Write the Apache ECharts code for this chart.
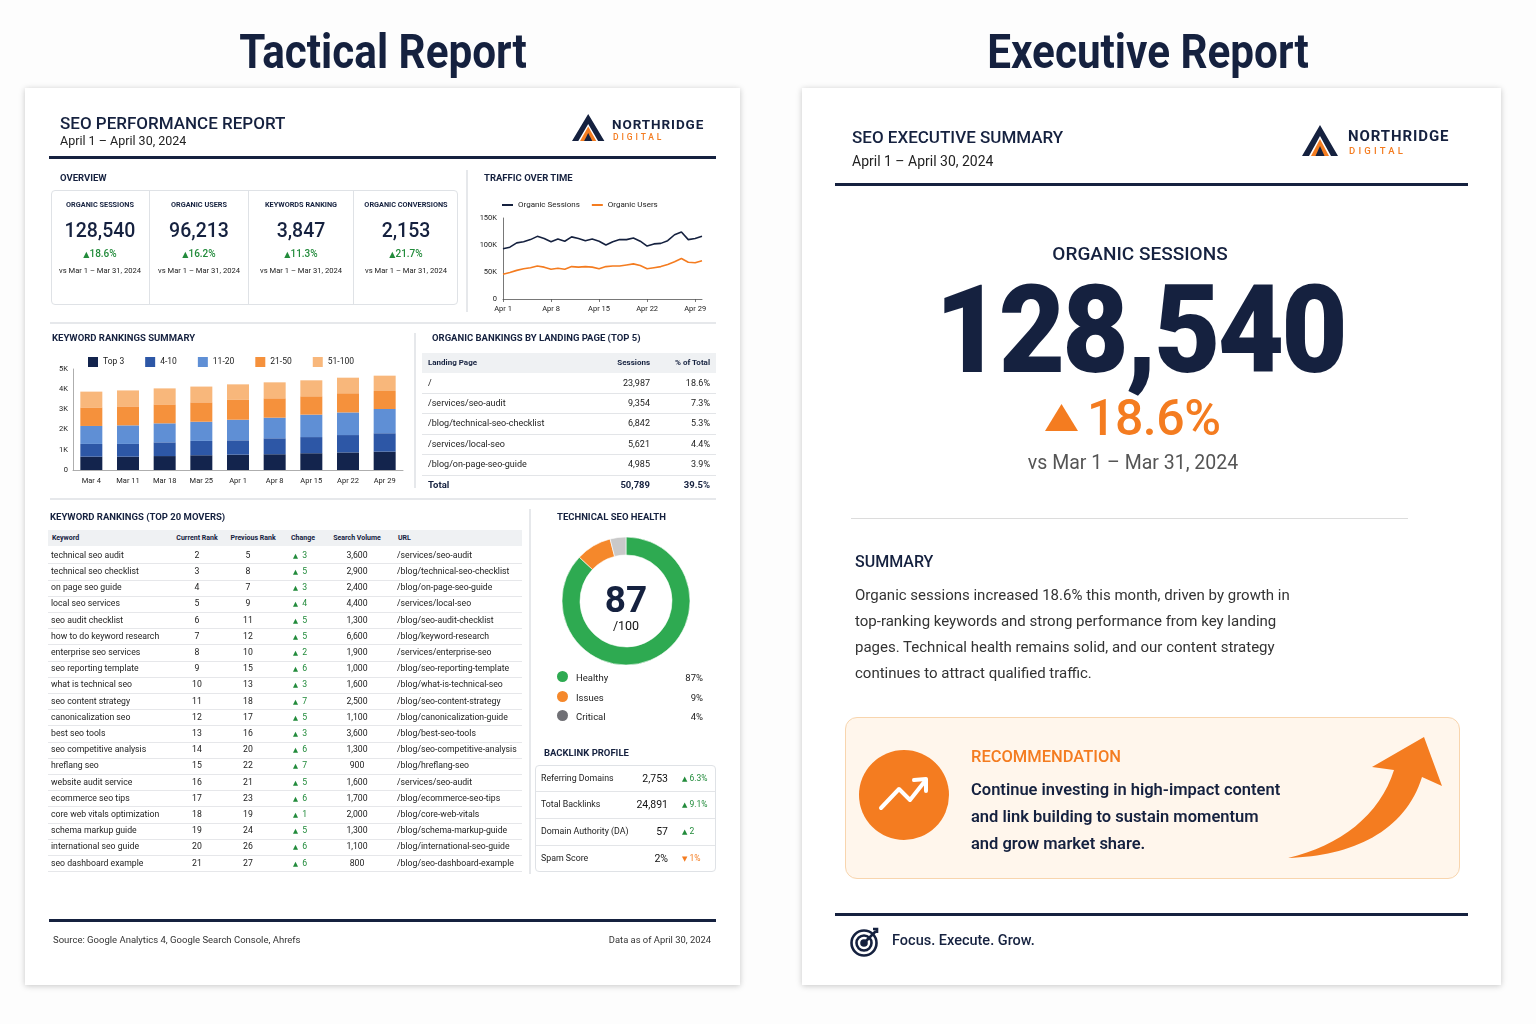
<!DOCTYPE html>
<html>
<head>
<meta charset="utf-8">
<title>SEO Reports</title>
<script src="https://cdn.jsdelivr.net/npm/echarts@6.0.0/dist/echarts.min.js"></script>
<style>
  body { margin:0; width:1536px; height:1024px; background:#fdfdfd; position:relative; overflow:hidden;
         font-family:Roboto, 'Noto Sans', sans-serif; color:#15213f; }
  .abs { position:absolute; white-space:nowrap; }
  .card { position:absolute; background:#fff; box-shadow:0 1px 6px rgba(0,0,0,0.22); }
  .box { position:absolute; border:1px solid #dfe2e6; border-radius:4px; background:#fff; box-sizing:border-box; }
  .chart { position:absolute; }
</style>
</head>
<body>
<div class="card" style="left:25px;top:88px;width:715px;height:897px"></div>
<div class="card" style="left:802px;top:88px;width:699px;height:897px"></div>
<div class="box" style="left:51px;top:190px;width:407px;height:115px"></div>
<div class="box" style="left:535px;top:765px;width:181px;height:107px"></div>
<div class="abs" style="left:845px;top:717px;width:615px;height:162px;background:#fff6ec;border:1px solid #f8d5ae;border-radius:12px;box-sizing:border-box"></div>
<div id="traffic" class="chart" style="left:470px;top:190px;width:250px;height:130px"></div>
<div id="rankings" class="chart" style="left:45px;top:345px;width:370px;height:150px"></div>
<div id="health" class="chart" style="left:561px;top:536px;width:130px;height:130px"></div>
<svg class="abs" style="left:0;top:0" width="1536" height="1024" id="art">
  <!-- logos -->
  <g transform="translate(572,114) scale(0.9)">
    <polygon points="18,0 36,30 29,30 18,11 7,30 0,30" fill="#15213f"/>
    <polygon points="18,14 27,30 9,30" fill="#f47c20"/>
    <polygon points="18,21 22.5,30 13.5,30" fill="#15213f"/>
  </g>
  <g transform="translate(1302,125)">
    <polygon points="18,0 36,31 29,31 18,11 7,31 0,31" fill="#15213f"/>
    <polygon points="18,14 27,31 9,31" fill="#f47c20"/>
    <polygon points="18,21 22.5,31 13.5,31" fill="#15213f"/>
  </g>
  <!-- up triangle next to big change -->
  <polygon points="1061.5,404 1078,431 1045,431" fill="#f47c20"/>
  <!-- recommendation icon -->
  <ellipse cx="904" cy="795" rx="45" ry="45" fill="#f47c20"/>
  <polyline points="881,808 899,789 910,800 925,781" fill="none" stroke="#fff" stroke-width="4" stroke-linecap="round" stroke-linejoin="round"/>
  <polyline points="914,780 926,779 926,791" fill="none" stroke="#fff" stroke-width="4" stroke-linecap="round" stroke-linejoin="round"/>
  <!-- swoosh arrow -->
  <path d="M1288,858 C1340,846 1380,815 1394,770 L1372,767 L1424,737 L1442,786 L1422,777 C1405,832 1352,856 1288,858 Z" fill="#f47c20"/>
  <!-- target icon -->
  <g fill="none" stroke="#15213f" stroke-width="2.6">
    <circle cx="864" cy="943" r="12.5"/>
    <circle cx="864" cy="943" r="7.5"/>
    <circle cx="864" cy="943" r="2.5" fill="#15213f"/>
    <line x1="864" y1="943" x2="876" y2="931"/>
    <polyline points="873,929 877,929 877,933"/>
  </g>
</svg>
<script>
// ---- data ----
var days = ['Apr 1','Apr 2','Apr 3','Apr 4','Apr 5','Apr 6','Apr 7','Apr 8','Apr 9','Apr 10',
  'Apr 11','Apr 12','Apr 13','Apr 14','Apr 15','Apr 16','Apr 17','Apr 18','Apr 19','Apr 20',
  'Apr 21','Apr 22','Apr 23','Apr 24','Apr 25','Apr 26','Apr 27','Apr 28','Apr 29','Apr 30'];
var sessions = [93000, 96000, 104000, 106000, 110000, 116000, 112000, 106000, 111000, 107000,
  115000, 112000, 108000, 111000, 107000, 100000, 106000, 110000, 110000, 113000,
  107000, 98000, 102000, 103000, 108000, 119000, 124000, 110000, 112000, 116000];
var users = [46000, 49000, 53000, 56000, 58000, 61000, 59000, 55000, 57000, 55000,
  60000, 59000, 60000, 59000, 56000, 60000, 61000, 61000, 63000, 65000,
  62000, 56000, 58000, 60000, 64000, 69000, 75000, 68000, 67000, 71000];

var weeks = ['Mar 4','Mar 11','Mar 18','Mar 25','Apr 1','Apr 8','Apr 15','Apr 22','Apr 29'];
var rankBands = ['Top 3','4-10','11-20','21-50','51-100'];
var top3 = [660, 660, 690, 730, 760, 780, 830, 870, 910];
var pos4to10 = [630, 630, 680, 710, 710, 790, 800, 860, 910];
var pos11to20 = [890, 920, 940, 950, 1020, 1020, 1110, 1120, 1200];
var pos21to50 = [920, 940, 940, 960, 980, 960, 910, 950, 890];
var pos51to100 = [780, 790, 790, 780, 770, 790, 790, 770, 760];

var kpiLabels = ['ORGANIC SESSIONS','ORGANIC USERS','KEYWORDS RANKING','ORGANIC CONVERSIONS'];
var kpiValues = ['128,540','96,213','3,847','2,153'];
var kpiChanges = ['18.6%','16.2%','11.3%','21.7%'];
var comparePeriod = 'vs Mar 1 – Mar 31, 2024';

var lpPages = ['/','/services/seo-audit','/blog/technical-seo-checklist','/services/local-seo','/blog/on-page-seo-guide'];
var lpSessions = ['23,987','9,354','6,842','5,621','4,985'];
var lpShare = ['18.6%','7.3%','5.3%','4.4%','3.9%'];
var lpTotal = ['Total','50,789','39.5%'];

var mvKeywords = ['technical seo audit','technical seo checklist','on page seo guide','local seo services',
  'seo audit checklist','how to do keyword research','enterprise seo services','seo reporting template',
  'what is technical seo','seo content strategy','canonicalization seo','best seo tools',
  'seo competitive analysis','hreflang seo','website audit service','ecommerce seo tips',
  'core web vitals optimization','schema markup guide','international seo guide','seo dashboard example'];
var mvCurrent = [2,3,4,5,6,7,8,9,10,11,12,13,14,15,16,17,18,19,20,21];
var mvPrevious = [5,8,7,9,11,12,10,15,13,18,17,16,20,22,21,23,19,24,26,27];
var mvChange = [3,5,3,4,5,5,2,6,3,7,5,3,6,7,5,6,1,5,6,6];
var mvVolume = ['3,600','2,900','2,400','4,400','1,300','6,600','1,900','1,000','1,600','2,500',
  '1,100','3,600','1,300','900','1,600','1,700','2,000','1,300','1,100','800'];
var mvUrls = ['/services/seo-audit','/blog/technical-seo-checklist','/blog/on-page-seo-guide','/services/local-seo',
  '/blog/seo-audit-checklist','/blog/keyword-research','/services/enterprise-seo','/blog/seo-reporting-template',
  '/blog/what-is-technical-seo','/blog/seo-content-strategy','/blog/canonicalization-guide','/blog/best-seo-tools',
  '/blog/seo-competitive-analysis','/blog/hreflang-seo','/services/seo-audit','/blog/ecommerce-seo-tips',
  '/blog/core-web-vitals','/blog/schema-markup-guide','/blog/international-seo-guide','/blog/seo-dashboard-example'];

var healthScore = 87;
var healthNames = ['Healthy','Issues','Critical'];
var healthValues = [87, 9, 4];

var blLabels = ['Referring Domains','Total Backlinks','Domain Authority (DA)','Spam Score'];
var blValues = ['2,753','24,891','57','2%'];
var blChanges = ['6.3%','9.1%','2','1%'];
var blUp = [true, true, true, false];

var summaryLines = ['Organic sessions increased 18.6% this month, driven by growth in',
  'top-ranking keywords and strong performance from key landing',
  'pages. Technical health remains solid, and our content strategy',
  'continues to attract qualified traffic.'];
var recoLines = ['Continue investing in high-impact content','and link building to sustain momentum','and grow market share.'];

// ---- styles ----
var navy = '#15213f';
var orange = '#f47c20';
var green = '#228b3b';
var bandColors = ['#13244d', '#2d57a6', '#5f8fd5', '#f5913c', '#f8b77b'];
var donutColors = ['#2eaa51', '#f5882b', '#c9c9c9'];
var dotColors = ['#2eaa51', '#f5882b', '#707075'];
var secTitle = 'font:700 9.5px Roboto;color:' + navy;

// ---- helpers ----
function put(x, y, html, css, align) {
  var d = document.createElement('div');
  d.className = 'abs';
  d.style.cssText = css || '';
  d.innerHTML = html;
  var fs = parseFloat(d.style.fontSize) || 12;
  var lh = parseFloat(d.style.lineHeight);
  if (!lh || d.style.lineHeight.indexOf('px') < 0) lh = Math.round(fs * 1.25);
  d.style.lineHeight = lh + 'px';
  d.style.top = (y - lh / 2) + 'px';
  if (align === 'center') { d.style.left = (x - 600) + 'px'; d.style.width = '1200px'; d.style.textAlign = 'center'; }
  else if (align === 'right') { d.style.left = (x - 1200) + 'px'; d.style.width = '1200px'; d.style.textAlign = 'right'; }
  else { d.style.left = x + 'px'; }
  document.body.appendChild(d);
  return d;
}
function rule(x, y, w, h, color) {
  var d = document.createElement('div');
  d.className = 'abs';
  d.style.cssText = 'left:' + x + 'px;top:' + y + 'px;width:' + w + 'px;height:' + h + 'px;background:' + color;
  document.body.appendChild(d);
}
function tri(up, color, size) {
  return '<span style="font-family:\'DejaVu Sans\';font-size:' + size + 'px;color:' + color + '">' + (up ? '▲' : '▼') + '</span>';
}

// ---- page titles ----
put(383, 52, 'Tactical Report', 'font:700 48px Roboto;line-height:50px;color:' + navy + ';transform:scaleX(0.88)', 'center');
put(1148, 52, 'Executive Report', 'font:700 48px Roboto;line-height:50px;color:' + navy + ';transform:scaleX(0.88)', 'center');

// ---- tactical header ----
put(60, 123, 'SEO PERFORMANCE REPORT', 'font:500 17px Roboto;color:' + navy);
put(60, 141, 'April 1 – April 30, 2024', 'font:400 12.5px Roboto;color:#222');
put(612, 124, 'NORTHRIDGE', 'font:700 13.5px Roboto;letter-spacing:0.9px;color:' + navy);
put(613, 137, 'DIGITAL', 'font:500 8.5px Roboto;letter-spacing:2.9px;color:' + orange);
rule(49, 155.5, 667, 3, navy);

// ---- section separators ----
rule(466, 170, 1.5, 142, '#e6e8eb');
rule(50, 322, 666, 1.5, '#e6e8eb');
rule(414, 333, 1.5, 155, '#e6e8eb');
rule(50, 498, 666, 1.5, '#e6e8eb');
rule(529, 509, 1.5, 365, '#e6e8eb');

// ---- overview KPIs ----
put(60, 178, 'OVERVIEW', secTitle);
var kpiCenters = [100, 199, 301, 406];
[149, 248, 353].forEach(function (x) { rule(x, 191, 1, 113, '#dfe2e6'); });
kpiLabels.forEach(function (lab, i) {
  var cx = kpiCenters[i];
  put(cx, 204, lab, 'font:700 7.3px Roboto;color:' + navy, 'center');
  put(cx, 231, kpiValues[i], 'font:500 19.5px Roboto;color:' + navy, 'center');
  put(cx, 253, tri(true, green, 8) + kpiChanges[i], 'font:500 10px Roboto;color:' + green, 'center');
  put(cx, 271, comparePeriod, 'font:400 7.6px Roboto;color:#222', 'center');
});

// ---- traffic over time ----
put(484, 178, 'TRAFFIC OVER TIME', secTitle);
var traffic = echarts.init(document.getElementById('traffic'));
traffic.setOption({
  animation: false,
  textStyle: { fontFamily: 'Roboto' },
  legend: {
    left: 32, top: 11, padding: 0, icon: 'rect', itemWidth: 11, itemHeight: 2, itemGap: 12,
    textStyle: { fontSize: 8, color: '#222' },
    data: ['Organic Sessions', 'Organic Users']
  },
  grid: { left: 33, right: 18, top: 28, bottom: 21 },
  xAxis: {
    type: 'category', data: days, boundaryGap: false,
    axisLine: { lineStyle: { color: '#555', width: 0.8 } },
    axisTick: { interval: 6, length: 3, lineStyle: { color: '#555', width: 0.8 } },
    axisLabel: { interval: 6, fontSize: 7.5, color: '#222', margin: 6 }
  },
  yAxis: {
    type: 'value', min: 0, max: 150000, interval: 50000,
    axisLine: { show: true, lineStyle: { color: '#555', width: 0.8 } },
    axisTick: { show: false }, splitLine: { show: false },
    axisLabel: { fontSize: 7.5, color: '#222', margin: 6,
      formatter: function (v) { return v === 0 ? '0' : (v / 1000) + 'K'; } }
  },
  series: [
    { name: 'Organic Sessions', type: 'line', data: sessions, symbol: 'none',
      lineStyle: { width: 1.6, color: navy }, itemStyle: { color: navy } },
    { name: 'Organic Users', type: 'line', data: users, symbol: 'none',
      lineStyle: { width: 1.6, color: orange }, itemStyle: { color: orange } }
  ]
});

// ---- keyword rankings summary ----
put(52, 338, 'KEYWORD RANKINGS SUMMARY', secTitle);
var bandData = [top3, pos4to10, pos11to20, pos21to50, pos51to100];
var rankings = echarts.init(document.getElementById('rankings'));
rankings.setOption({
  animation: false,
  textStyle: { fontFamily: 'Roboto' },
  legend: {
    left: 43, top: 12, padding: 0, icon: 'rect', itemWidth: 10, itemHeight: 10, itemGap: 21,
    textStyle: { fontSize: 8.5, color: '#222' }, data: rankBands
  },
  grid: { left: 28, right: 12, top: 24, bottom: 25 },
  xAxis: {
    type: 'category', data: weeks,
    axisLine: { lineStyle: { color: '#999', width: 0.8 } }, axisTick: { show: false },
    axisLabel: { fontSize: 7.5, color: '#222', margin: 7 }
  },
  yAxis: {
    type: 'value', min: 0, max: 5000, interval: 1000,
    axisLine: { show: true, lineStyle: { color: '#999', width: 0.8 } },
    axisTick: { show: false }, splitLine: { show: false },
    axisLabel: { fontSize: 7.5, color: '#222', margin: 5,
      formatter: function (v) { return v === 0 ? '0' : (v / 1000) + 'K'; } }
  },
  series: rankBands.map(function (name, i) {
    return { name: name, type: 'bar', stack: 'rank', barWidth: 22, data: bandData[i],
             itemStyle: { color: bandColors[i] } };
  })
});

// ---- landing page table ----
put(432, 338, 'ORGANIC BANKINGS BY LANDING PAGE (TOP 5)', secTitle);
rule(422, 353, 294, 20, '#eff1f3');
put(428, 363, 'Landing Page', 'font:700 8px Roboto;color:' + navy);
put(650, 363, 'Sessions', 'font:700 8px Roboto;color:' + navy, 'right');
put(710, 363, '% of Total', 'font:700 8px Roboto;color:' + navy, 'right');
lpPages.forEach(function (p, i) {
  var y = 383 + i * 20.4;
  put(428, y, p, 'font:400 9px Roboto;color:#222');
  put(650, y, lpSessions[i], 'font:400 9px Roboto;color:#222', 'right');
  put(710, y, lpShare[i], 'font:400 9px Roboto;color:#222', 'right');
  rule(422, y + 10, 294, 1, '#e3e5e8');
});
put(428, 485, lpTotal[0], 'font:700 9.5px Roboto;color:' + navy);
put(650, 485, lpTotal[1], 'font:700 9.5px Roboto;color:' + navy, 'right');
put(710, 485, lpTotal[2], 'font:700 9.5px Roboto;color:' + navy, 'right');

// ---- top 20 movers ----
put(50, 517, 'KEYWORD RANKINGS (TOP 20 MOVERS)', secTitle);
rule(48, 530, 474, 16, '#eff1f3');
var hdr = 'font:700 7px Roboto;color:' + navy;
put(52, 538, 'Keyword', hdr);
put(197, 538, 'Current Rank', hdr, 'center');
put(253, 538, 'Previous Rank', hdr, 'center');
put(303, 538, 'Change', hdr, 'center');
put(357, 538, 'Search Volume', hdr, 'center');
put(398, 538, 'URL', hdr);
mvKeywords.forEach(function (k, i) {
  var y = 555.3 + i * 16.2;
  var f = 'font:400 8.7px Roboto;color:#222';
  put(51, y, k, f);
  put(197, y, mvCurrent[i], f, 'center');
  put(248, y, mvPrevious[i], f, 'center');
  put(293, y, tri(true, green, 6.5) + '&nbsp; ' + mvChange[i], 'font:400 8.7px Roboto;color:' + green);
  put(357, y, mvVolume[i], f, 'center');
  put(397, y, mvUrls[i], f);
  rule(48, y + 8, 474, 1, '#e6e7ea');
});

// ---- technical seo health ----
put(557, 517, 'TECHNICAL SEO HEALTH', secTitle);
var health = echarts.init(document.getElementById('health'));
health.setOption({
  animation: false,
  series: [{
    type: 'pie', radius: [46, 64], center: ['50%', '50%'], startAngle: 90, clockwise: true,
    silent: true, label: { show: false }, labelLine: { show: false },
    itemStyle: { borderColor: '#fff', borderWidth: 0.6 },
    data: healthNames.map(function (n, i) {
      return { name: n, value: healthValues[i], itemStyle: { color: donutColors[i] } };
    })
  }],
  graphic: [
    { type: 'text', style: { x: 65, y: 67, text: String(healthScore), textAlign: 'center', textVerticalAlign: 'middle',
        font: '700 37px Roboto', fill: navy } },
    { type: 'text', style: { x: 65, y: 91, text: '/100', textAlign: 'center', textVerticalAlign: 'middle',
        font: '400 12.5px Roboto', fill: '#111' } }
  ]
});
healthNames.forEach(function (n, i) {
  var y = 678 + i * 19.5;
  put(556.5, y, '<span style="display:inline-block;width:11px;height:11px;border-radius:50%;background:' + dotColors[i] + '"></span>', 'font:400 11px Roboto');
  put(576, y, n, 'font:400 9.5px Roboto;color:#222');
  put(703, y, healthValues[i] + '%', 'font:400 9.5px Roboto;color:#222', 'right');
});

// ---- backlink profile ----
put(544, 753, 'BACKLINK PROFILE', secTitle);
blLabels.forEach(function (l, i) {
  var y = 778 + i * 26.8;
  put(541, y, l, 'font:400 8.8px Roboto;color:#222');
  put(668, y, blValues[i], 'font:400 10.5px Roboto;color:#111', 'right');
  var c = blUp[i] ? green : orange;
  put(682, y, tri(blUp[i], c, 7) + ' ' + blChanges[i], 'font:400 8.5px Roboto;color:' + c);
  if (i < 3) rule(536, y + 13.4, 179, 1, '#e3e5e8');
});

// ---- tactical footer ----
rule(49, 918.5, 667, 3, navy);
put(53, 940, 'Source: Google Analytics 4, Google Search Console, Ahrefs', 'font:400 9.5px Roboto;color:#333');
put(711, 940, 'Data as of April 30, 2024', 'font:400 9.4px Roboto;color:#333', 'right');

// ---- executive report ----
put(852, 137, 'SEO EXECUTIVE SUMMARY', 'font:500 17px Roboto;color:' + navy);
put(852, 161, 'April 1 – April 30, 2024', 'font:400 14px Roboto;color:#222');
put(1348, 136, 'NORTHRIDGE', 'font:700 15px Roboto;letter-spacing:0.9px;color:' + navy);
put(1349, 151, 'DIGITAL', 'font:500 9.5px Roboto;letter-spacing:3.2px;color:' + orange);
rule(835, 182.5, 633, 3, navy);

put(1140, 254, kpiLabels[0], 'font:500 19px Roboto;line-height:22px;color:' + navy, 'center');
put(1140, 331, kpiValues[0], 'font:900 122px Roboto;line-height:96px;letter-spacing:-3px;transform:scaleX(0.94);color:' + navy, 'center');
put(1087, 418, kpiChanges[0], 'font:500 50px Roboto;line-height:50px;letter-spacing:-0.5px;color:' + orange);
put(1133, 463, comparePeriod, 'font:400 19.5px Roboto;line-height:22px;color:#555', 'center');
rule(851, 517.5, 557, 1.5, '#dcdcdc');

put(855, 562, 'SUMMARY', 'font:500 16px Roboto;color:' + navy);
summaryLines.forEach(function (t, i) {
  put(855, 595 + i * 26.3, t, 'font:400 15px Roboto;color:#333');
});

put(971, 756, 'RECOMMENDATION', 'font:500 16.5px Roboto;color:' + orange);
recoLines.forEach(function (t, i) {
  put(971, 789 + i * 27, t, 'font:600 16.5px Roboto;color:' + navy);
});

rule(835, 912.5, 633, 3, navy);
put(892, 941, 'Focus. Execute. Grow.', 'font:500 14.5px Roboto;color:' + navy);
</script>
</body>
</html>
